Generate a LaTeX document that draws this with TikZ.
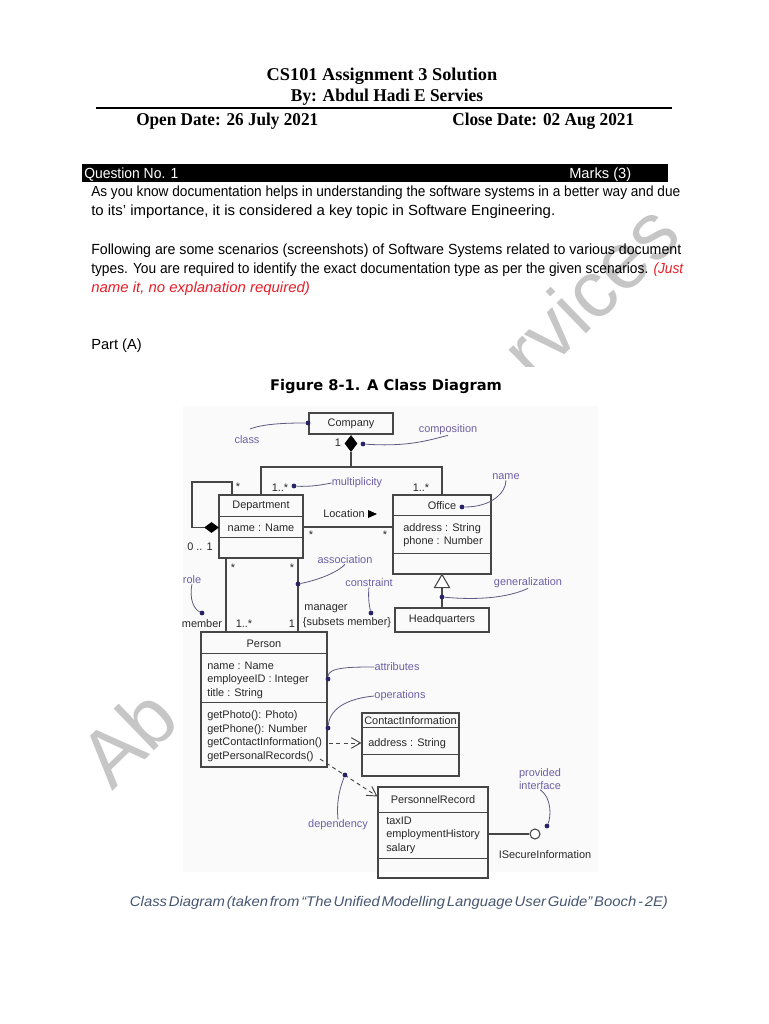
\documentclass[tikz,border=0pt]{standalone}
\usepackage{fontspec}
\setmainfont{Liberation Serif}
\setsansfont{Liberation Sans}
\newfontfamily\dejab{DejaVu Sans}
\usetikzlibrary{shapes.geometric,arrows.meta,fit}
\definecolor{lblc}{RGB}{110,95,165}
\definecolor{dotc}{RGB}{40,35,100}
\definecolor{notec}{RGB}{95,90,130}
\definecolor{linec}{RGB}{70,70,70}
\definecolor{txtc}{RGB}{40,40,40}
\definecolor{wmc}{RGB}{198,198,198}
\definecolor{capc}{RGB}{70,85,112}
\definecolor{redc}{RGB}{232,30,40}
\newcommand\fitw[2]{\resizebox{#1}{\height}{#2}}
\newcommand\hdrfont{\rmfamily\bfseries\fontsize{13.5}{16}\selectfont}
\newcommand\dfont{\sffamily\fontsize{8.2}{9.5}\selectfont}
\newcommand\divd[2]{\draw[dline] ([yshift=-#2*0.75pt]#1.north west) -- ([yshift=-#2*0.75pt]#1.north east);}
\begin{document}
\begin{tikzpicture}[x=0.75pt,y=-0.75pt,
  dline/.style={draw=linec, line width=0.8pt},
  box/.style={draw=linec, line width=0.8pt, inner sep=0pt},
  dtxt/.style={font=\dfont, text=txtc, inner sep=0pt},
  ltxt/.style={font=\dfont, text=txtc, inner sep=0pt, anchor=west},
  lbl/.style={font=\dfont, text=lblc, inner sep=0pt},
  note/.style={draw=notec, line width=0.6pt},
  ndot/.style={circle, fill=dotc, inner sep=0pt, minimum size=3.6pt},
  body/.style={anchor=base west, inner sep=0pt, font=\sffamily\fontsize{11}{13}\selectfont},
  wmark/.style={rotate=44, anchor=base west, inner sep=0pt, text=wmc, font=\sffamily\fontsize{60}{60}\selectfont},
  cdiam/.style={diamond, fill=black, inner sep=0pt, minimum width=9.75pt, minimum height=12.75pt},
  sdiam/.style={diamond, fill=black, inner sep=0pt, minimum width=11.25pt, minimum height=8.25pt},
  depline/.style={draw=linec, line width=0.7pt, dash pattern=on 3pt off 2.5pt, -{Straight Barb[length=7pt,width=8pt]}}]
\useasboundingbox (0,0) rectangle (768,1024);
\fill[white] (0,0) rectangle (768,1024);

% watermark (only its visible parts; the middle lies under the figure)
\node[wmark] (wmA) at (112,792) {Ab};
\node[wmark] (wmB) at (534.2,384.3) {rvices};

% header
\node[anchor=base, inner sep=0pt, font=\hdrfont] (title) at (382,80) {\fitw{173pt}{CS101 Assignment 3 Solution}};
\node[anchor=base, inner sep=0pt, font=\hdrfont] (author) at (387,101) {\fitw{144pt}{By: Abdul Hadi E Servies}};
\draw[line width=1.6pt] (96,108) -- (672,108);
\node[anchor=base west, inner sep=0pt, font=\hdrfont] (open) at (136,125) {\fitw{136.5pt}{Open Date: 26 July 2021}};
\node[anchor=base west, inner sep=0pt, font=\hdrfont] (close) at (452,125) {\fitw{136.5pt}{Close Date: 02 Aug 2021}};

% question bar
\fill[black] (82,164) rectangle (668,182);
\node[body, text=white] (qno) at (84,178.5) {\fitw{70.5pt}{Question No. 1}};
\node[body, text=white] (marks) at (569,178.5) {Marks (3)};

% body text
\node[body] (p1a) at (91,196) {\fitw{441.75pt}{As you know documentation helps in understanding the software systems in a better way and due}};
\node[body] (p1b) at (91,215) {\fitw{348pt}{to its' importance, it is considered a key topic in Software Engineering.}};
\node[body] (p2a) at (91,254) {\fitw{442.5pt}{Following are some scenarios (screenshots) of Software Systems related to various document}};
\node[body] (p2b) at (91,273) {\fitw{444pt}{types. You are required to identify the exact documentation type as per the given scenarios. \textcolor{redc}{\itshape (Just}}};
\node[body, text=redc] (p2c) at (91,292) {\fitw{164pt}{\itshape name it, no explanation required)}};
\node[body] (partA) at (91,349) {Part (A)};

% figure image area
\fill[white] (180,367) rectangle (600,875);
\fill[black!2] (183,406) rectangle (598,872);
\node[anchor=base, inner sep=0pt, font=\dejab\bfseries\fontsize{11}{13}\selectfont] (figt) at (386,390) {Figure 8-1. A Class Diagram};

% classes
\node[box, fit={(309,413) (393,434)}] (company) {};
\node[dtxt] (companyT) at (company.center) {Company};

\node[box, fit={(219,495) (303,558)}] (dept) {};
\divd{dept}{22}\divd{dept}{43}
\node[dtxt] (deptT) at (261,506) {Department};
\node[dtxt] (deptA) at (261,527.5) {name : Name};

\node[box, fit={(393,495) (491,574)}] (office) {};
\divd{office}{21}\divd{office}{59}
\node[dtxt] (officeT) at (442,506) {Office};
\node[ltxt] (officeA1) at (403,529) {address : String};
\node[ltxt] (officeA2) at (403,542) {phone : Number};

\node[box, fit={(395,608) (489,632)}] (hq) {};
\node[dtxt] (hqT) at (hq.center) {Headquarters};

\node[box, fit={(201,632) (327,767)}] (person) {};
\divd{person}{22}\divd{person}{71}
\node[dtxt] (personT) at (264,643.5) {Person};
\node[ltxt] (pa1) at (207,666) {name : Name};
\node[ltxt] (pa2) at (207,680) {employeeID : Integer};
\node[ltxt] (pa3) at (207,694) {title : String};
\node[ltxt] (po1) at (207,716) {getPhoto(): Photo)};
\node[ltxt] (po2) at (207,729.5) {getPhone(): Number};
\node[ltxt] (po3) at (207,743) {getContactInformation()};
\node[ltxt] (po4) at (207,756.5) {getPersonalRecords()};

\node[box, fit={(362,713) (459,776)}] (contact) {};
\divd{contact}{15}\divd{contact}{42}
\node[dtxt] (contactT) at (410.5,721) {ContactInformation};
\node[ltxt] (contactA) at (368,744) {address : String};

\node[box, fit={(378,787) (488,878)}] (personnel) {};
\divd{personnel}{26}\divd{personnel}{72}
\node[dtxt] (personnelT) at (433,800) {PersonnelRecord};
\node[ltxt] (pr1) at (386,821) {taxID};
\node[ltxt] (pr2) at (386,835) {employmentHistory};
\node[ltxt] (pr3) at (386,849) {salary};

% composition Company -> Department / Office
\node[cdiam] (cdia) at (351,443.5) {};
\coordinate (hbarY) at (0,467);
\draw[dline] (cdia.south) -- (cdia.south |- hbarY);
\draw[dline] (dept.north) |- (hbarY -| office.north) -- (office.north);
\node[dtxt] (m1) at (338,443) {1};
\node[dtxt] (m2) at (280,488) {1..*};
\node[dtxt] (m3) at (421,488) {1..*};

% self composition on Department
\node[sdiam] (sdia) at (211.5,527.5) {};
\coordinate (loopTL) at (192,482);
\coordinate (loopTR) at (232,482);
\draw[dline] (sdia.west) -| (loopTL) -- (loopTR) -- (loopTR |- dept.north);
\node[dtxt] (m4) at (238,487) {*};
\node[dtxt] (m5) at (200,547) {0 .. 1};

% association Location
\coordinate (assocY) at (0,527);
\draw[dline] (dept.east |- assocY) -- (office.west |- assocY);
\node[dtxt] (locT) at (344,514) {Location};
\fill[black] (368,510) -- (377,514) -- (368,518) -- cycle;
\node[dtxt] (m6) at (311,535) {*};
\node[dtxt] (m7) at (385,535) {*};

% Department - Person
\coordinate (mL) at (226,0);
\coordinate (mR) at (298,0);
\draw[dline] (dept.south -| mL) -- (person.north -| mL);
\draw[dline] (dept.south -| mR) -- (person.north -| mR);
\node[dtxt] (m8) at (233,568) {*};
\node[dtxt] (m9) at (292,568) {*};
\node[dtxt] (m10) at (244,624) {1..*};
\node[dtxt] (m11) at (292,624) {1};
\node[dtxt] (member) at (202,624) {member};
\node[dtxt] (manager) at (326,609) {manager};
\node[dtxt] (subsets) at (347,623) {\{subsets member\}};

% generalization
\draw[dline, fill=white] (office.south) -- ++(7.5,13) -- ++(-15,0) -- cycle;
\draw[dline] (office.south) ++(0,13) -- (hq.north);

% dependencies
\coordinate (dep1s) at (329,743);
\draw[depline] (dep1s) -- (contact.west |- dep1s);
\coordinate (dep2s) at (320,759);
\draw[depline] (dep2s) -- ([yshift=-7.5pt]personnel.north west);

% provided interface
\node[circle, draw=linec, line width=0.8pt, fill=white, minimum size=7.5pt, inner sep=0pt] (iface) at (535,834) {};
\draw[dline] (personnel.east |- iface) -- (iface.west);
\node[dtxt] (isec) at (545,855) {ISecureInformation};

% annotation labels
\node[lbl] (lclass) at (247,440) {class};
\node[ndot] (dclass) at (308,423) {};
\draw[note] (250,429) .. controls +(15,-6) and +(-15,0) .. (dclass);

\node[lbl] (lcomp) at (448,430) {composition};
\node[ndot] (dcomp) at (363,444) {};
\draw[note] (dcomp) .. controls +(45,3) and +(-20,5) .. (lcomp.south);

\node[lbl] (lmult) at (357,483) {multiplicity};
\node[ndot] (dmult) at (294,486) {};
\draw[note] (dmult) .. controls +(15,1) and +(-10,2) .. (lmult.west);

\node[lbl] (lname) at (506,477) {name};
\node[ndot] (dname) at (462,507) {};
\draw[note] (dname) .. controls +(30,0) and +(0,12) .. (lname.south);

\node[lbl] (lassoc) at (345,560) {association};
\node[ndot] (dassoc) at (298,584) {};
\draw[note] (dassoc) .. controls +(25,-5) and +(-5,6) .. (lassoc.south);

\node[lbl] (lrole) at (192,580) {role};
\node[ndot] (drole) at (202,613) {};
\draw[note] (lrole.south) .. controls +(-3,15) and +(-8,-4) .. (drole);

\node[lbl] (lcons) at (369,583) {constraint};
\node[ndot] (dcons) at (371,613) {};
\draw[note] (dcons) .. controls +(-2,-8) and +(-1,8) .. (lcons.south);

\node[lbl] (lgen) at (528,583) {generalization};
\node[ndot] (dgen) at (442,597) {};
\draw[note] (dgen) .. controls +(45,4) and +(-15,7) .. (lgen.south);

\node[lbl] (lattr) at (397,667) {attributes};
\node[ndot] (dattr) at (328,679) {};
\draw[note] (dattr) .. controls +(0,-12) and +(-22,0) .. (lattr.west);

\node[lbl] (lops) at (400,696) {operations};
\node[ndot] (dops) at (328,728) {};
\draw[note] (dops) .. controls +(2,-22) and +(-22,2) .. (lops.west);

\node[lbl] (ldep) at (338,825) {dependency};
\node[ndot] (ddep) at (345,775) {};
\draw[note] (ldep.north) .. controls +(-2,-20) and +(-4,10) .. (ddep);

\node[lbl, align=center] (lprov) at (540,779) {provided\\interface};
\node[ndot] (dprov) at (547,826) {};
\draw[note] (lprov.south) .. controls +(12,8) and +(4,-9) .. (dprov);

% caption
\node[anchor=base, inner sep=0pt, text=capc, font=\sffamily\itshape\fontsize{10.5}{12}\selectfont] (caption) at (399,906) {\fitw{403.5pt}{\spaceskip=0.12em Class Diagram (taken from “The Unified Modelling Language User Guide” Booch - 2E)}};
\end{tikzpicture}
\end{document}
